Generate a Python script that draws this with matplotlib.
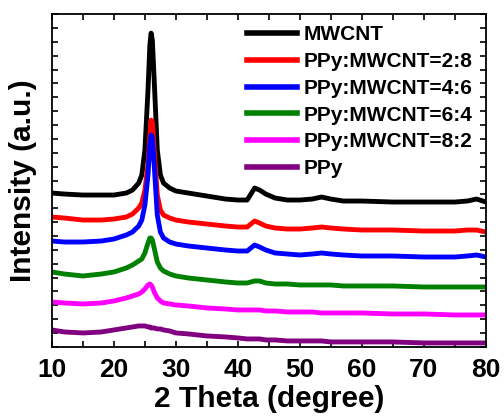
import matplotlib
matplotlib.use("Agg")
import matplotlib.pyplot as plt
import numpy as np
from matplotlib.ticker import MultipleLocator, NullFormatter

plt.rcParams['font.family'] = ['Liberation Sans', 'DejaVu Sans']
plt.rcParams['font.weight'] = 'bold'

two_theta = [10, 12, 15, 18, 20, 22, 23, 24, 24.5, 25, 25.5, 25.8, 26, 26.2, 26.5, 27, 27.5, 28, 29, 30,
             32, 35, 38, 40, 41.5, 42.7, 43.5, 44.5, 46, 48, 50, 52, 53.5, 55, 57, 60, 65, 70, 75, 77, 78.5, 80]

mwcnt = [154,153,152,152,152,154,157,164,172,197,257,302,314,307,267,197,172,164,159,156,
         154,151,148,147,147,159,157,153,149,147,147,148,150,148,146,146,145,145,145,146,148,145]
ppy_28 = [130,129,127,127,128,130,133,139,144,157,182,212,227,225,197,152,137,132,129,127,
          125,123,121,120,120,126,124,121,119,118,118,119,120,119,118,117,117,116,116,117,117,115]
ppy_46 = [106,105,105,106,108,112,115,121,127,142,172,202,212,209,182,132,115,109,105,103,
          101,99,97,96,96,102,100,97,94,93,92,93,94,93,92,91,91,90,90,91,92,90]
ppy_64 = [75,73,71,73,75,79,82,86,88,94,104,109,109,107,99,85,79,76,73,71,
          69,67,65,64,64,66,66,64,63,63,62,62,62,62,61,61,61,60,60,60,60,60]
ppy_82 = [45,44,43,44,46,49,51,53,55,58,62,63,62,60,55,49,46,44,43,42,
          41,39,38,37,37,37,37,36,36,35,35,35,34,34,34,34,33,33,32,32,32,32]
ppy = [17,15,14,15,17,19,20,21,21,21,20,20,19,19,19,18,18,17,16,14,
       13,11,10,9,8,8,8,7,7,6,6,6,6,5,5,5,5,4,4,4,4,4]

labels = ['MWCNT', 'PPy:MWCNT=2:8', 'PPy:MWCNT=4:6', 'PPy:MWCNT=6:4', 'PPy:MWCNT=8:2', 'PPy']
series = [mwcnt, ppy_28, ppy_46, ppy_64, ppy_82, ppy]
colors = ['#000000', '#FF0000', '#0000FF', '#008000', '#FF00FF', '#800080']

fig = plt.figure(figsize=(5.04, 4.16), dpi=100)
ax = fig.add_axes([0.103, 0.166, 0.861, 0.800])

for vals, lab, col in zip(series, labels, colors):
    ax.plot(two_theta, vals, color=col, lw=3.5, label=lab, solid_joinstyle='round')

ax.set_xlim(10, 80)
ax.set_ylim(0, 333)
ax.xaxis.set_major_locator(MultipleLocator(10))
ax.xaxis.set_minor_locator(MultipleLocator(5))
ax.yaxis.set_major_locator(MultipleLocator(333 / 24))
ax.yaxis.set_major_formatter(NullFormatter())
ax.tick_params(axis='both', which='both', direction='in', top=True, right=True,
               length=4, width=1.2)
ax.tick_params(axis='x', labelsize=19, pad=8)
for s in ax.spines.values():
    s.set_linewidth(1.3)

ax.set_xlabel('2 Theta (degree)', fontsize=21.5, fontweight='bold', labelpad=2)
ax.set_ylabel('Intensity (a.u.)', fontsize=21.5, fontweight='bold', labelpad=7)

leg = ax.legend(loc='upper left', bbox_to_anchor=(0.45, 0.966), frameon=False,
                fontsize=15, handlelength=2.4, handletextpad=0.3, labelspacing=0.37,
                borderpad=0, borderaxespad=0)
for t in leg.get_texts():
    t.set_fontweight('bold')
for l in leg.get_lines():
    l.set_linewidth(4)

fig.savefig('out.png', dpi=100)
